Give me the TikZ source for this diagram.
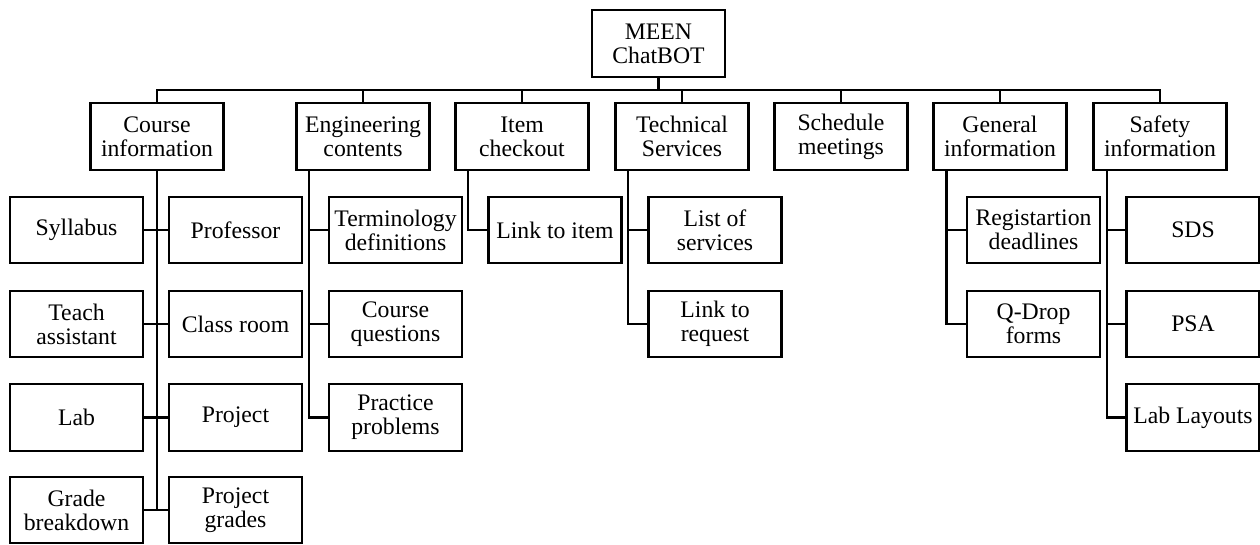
\documentclass[tikz,border=0pt]{standalone}
\usepackage{fontspec}
\setmainfont{Liberation Serif}
\usetikzlibrary{calc}

\tikzset{
  box/.style={draw,line width=1.3pt,minimum width=2.66cm,minimum height=1.33cm,
    inner sep=0pt,align=center,font=\fontsize{13.5}{13.6}\selectfont},
  link/.style={line width=1.3pt}
}

\begin{document}
\begin{tikzpicture}[x=0.02cm,y=-0.02cm]
\useasboundingbox (0,0) rectangle (1260,544);

\node[box] (root) at (658.5,43.5) {MEEN\\ChatBOT};

\node[box] (cinfo) at (157,136.5) {Course\\information};
\node[box] (econt) at (363,136.5) {Engineering\\contents};
\node[box] (icheck) at (522,136.5) {Item\\checkout};
\node[box] (tserv) at (682,136.5) {Technical\\Services};
\node[box] (smeet) at (841,136.5) {Schedule\\meetings};
\node[box] (ginfo) at (1000,136.5) {General\\information};
\node[box] (sinfo) at (1160,136.5) {Safety\\information};

\node[box] (syllabus) at (76.5,230) {Syllabus};
\node[box] (professor) at (235.5,230) {Professor};
\node[box] (teach) at (76.5,324) {Teach\\assistant};
\node[box] (classroom) at (235.5,324) {Class room};
\node[box] (lab) at (76.5,417.5) {Lab};
\node[box] (project) at (235.5,417.5) {Project};
\node[box] (grade) at (76.5,510) {Grade\\breakdown};
\node[box] (pgrades) at (235.5,510) {Project\\grades};

\node[box] (termdef) at (395.5,230) {Terminology\\definitions};
\node[box] (cquest) at (395.5,324) {Course\\questions};
\node[box] (practice) at (395.5,417.5) {Practice\\problems};

\node[box] (linkitem) at (555,230) {Link to item};

\node[box] (services) at (715,230) {List of\\services};
\node[box] (request) at (715,324) {Link to\\request};

\node[box] (regdead) at (1033.5,230) {Registartion\\deadlines};
\node[box] (qdrop) at (1033.5,324) {Q-Drop\\forms};

\node[box] (sds) at (1193,230) {SDS};
\node[box] (psa) at (1193,324) {PSA};
\node[box] (layouts) at (1193,417.5) {Lab Layouts};

\coordinate (bus) at (658.5,90);
\draw[link] (root.south) -- (bus);
\draw[link] (cinfo.north) |- (bus) -| (sinfo.north);
\foreach \n in {econt,icheck,tserv,smeet,ginfo}
  \draw[link] (\n.north) -- (\n.north |- bus);

\draw[link] (cinfo.south) -- (cinfo.south |- grade.east);
\draw[link] (syllabus.east) -- (professor.west);
\draw[link] (teach.east) -- (classroom.west);
\draw[link] (lab.east) -- (project.west);
\draw[link] (grade.east) -- (pgrades.west);

\coordinate (estem) at ($(econt.south west)+(13.5,0)$);
\draw[link] (estem) |- (practice.west);
\draw[link] (termdef.west) -- (termdef.west -| estem);
\draw[link] (cquest.west) -- (cquest.west -| estem);

\coordinate (istem) at ($(icheck.south west)+(13.5,0)$);
\draw[link] (istem) |- (linkitem.west);

\coordinate (tstem) at ($(tserv.south west)+(13.5,0)$);
\draw[link] (tstem) |- (request.west);
\draw[link] (services.west) -- (services.west -| tstem);

\coordinate (gstem) at ($(ginfo.south west)+(14,0)$);
\draw[link] (gstem) |- (qdrop.west);
\draw[link] (regdead.west) -- (regdead.west -| gstem);

\coordinate (sstem) at ($(sinfo.south west)+(14.5,0)$);
\draw[link] (sstem) |- (layouts.west);
\draw[link] (sds.west) -- (sds.west -| sstem);
\draw[link] (psa.west) -- (psa.west -| sstem);

\end{tikzpicture}
\end{document}
